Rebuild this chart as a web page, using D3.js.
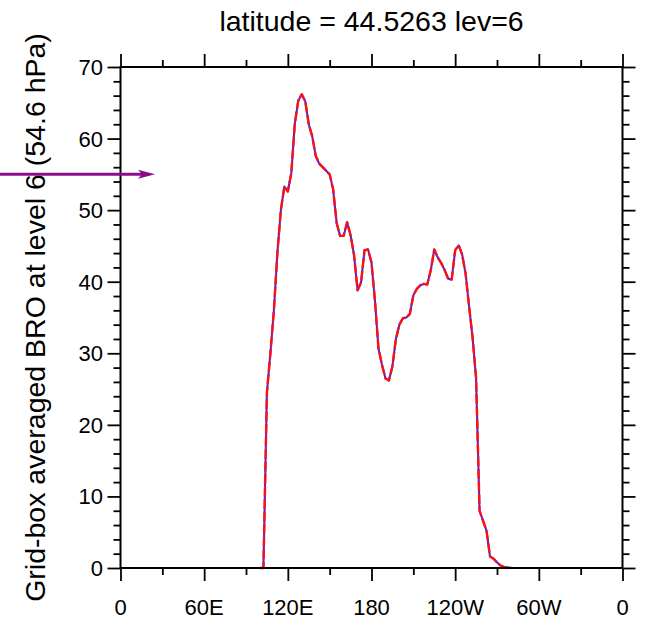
<!DOCTYPE html>
<html>
<head>
<meta charset="utf-8">
<script src="https://cdn.jsdelivr.net/npm/d3@7"></script>
<style>
  html, body { margin: 0; padding: 0; background: #fff; }
  svg { display: block; }
  text { font-family: "Liberation Sans", Arial, Helvetica, sans-serif; fill: #000; }
</style>
</head>
<body>
<svg id="chart" width="645" height="621"></svg>
<script>
// Longitudes (degrees east) of the grid columns along latitude 44.5263
const lons = [100, 102.5, 105, 107.5, 110, 112.5, 115, 117.5, 120, 122.5, 125, 127.5, 130, 132.5,
  135, 137.5, 140, 142.5, 145, 147.5, 150, 152.5, 155, 157.5, 160, 162.5, 165, 167.5, 170, 172.5,
  175, 177.5, 180, 182.5, 185, 187.5, 190, 192.5, 195, 197.5, 200, 202.5, 205, 207.5, 210, 212.5,
  215, 217.5, 220, 222.5, 225, 227.5, 230, 232.5, 235, 237.5, 240, 242.5, 245, 247.5, 250, 252.5,
  255, 257.5, 260, 262.5, 265, 267.5, 270, 272.5, 275, 277.5, 280];

// Grid-box averaged BRO at level 6 (first field, solid blue)
const broSolid = [0, 0, 24.5, 30, 36, 44, 50, 53.3, 52.6, 55.2, 62.1, 65.3, 66.2, 65.2,
  62, 60.3, 57.6, 56.5, 56.0, 55.5, 55.0, 52.9, 48.2, 46.4, 46.4, 48.3, 46.5, 43.7, 38.8, 39.9,
  44.4, 44.5, 42.7, 37.3, 30.7, 28.4, 26.5, 26.2, 28.2, 32.0, 34.0, 34.9, 35.0, 35.5, 38.1, 39.0,
  39.5, 39.7, 39.6, 41.6, 44.5, 43.4, 42.6, 41.6, 40.4, 40.3, 44.4, 45.1, 43.8, 41.1, 36.5, 32.2,
  26.5, 8.0, 6.6, 5.2, 1.6, 1.3, 0.8, 0.35, 0.15, 0.1, 0];

// Second field (dashed red); it coincides with the first one
const broDashed = broSolid.slice();

// Axis ticks
const xMajorTicks = [0, 60, 120, 180, 240, 300, 360];
const xTickLabels = ["0", "60E", "120E", "180", "120W", "60W", "0"];
const xMinorTicks = [30, 90, 150, 210, 270, 330];
const yMajorTicks = [0, 10, 20, 30, 40, 50, 60, 70];

const titleText = "latitude = 44.5263 lev=6";
const yLabelText = "Grid-box averaged BRO at level 6 (54.6 hPa)";
const arrowValue = 55;

const svg = d3.select("#chart");
const plotLeft = 120.5, plotRight = 622.5, plotTop = 67, plotBottom = 568;

const x = d3.scaleLinear().domain([0, 360]).range([plotLeft, plotRight]);
const y = d3.scaleLinear().domain([0, 70]).range([plotBottom, plotTop]);

const yMinorTicks = d3.range(0, 70.001, 2).filter(v => v % 10 !== 0);

// Curves
const line = d3.line()
  .x((d, i) => x(lons[i]))
  .y(d => y(d));

svg.append("path")
  .datum(broSolid)
  .attr("d", line)
  .attr("fill", "none")
  .attr("stroke", "#2b2bff")
  .attr("stroke-width", 2)
  .attr("stroke-linejoin", "round");

svg.append("path")
  .datum(broDashed)
  .attr("d", line)
  .attr("fill", "none")
  .attr("stroke", "#ff1010")
  .attr("stroke-width", 2.4)
  .attr("stroke-dasharray", "10,2.5")
  .attr("stroke-linejoin", "round");

// Frame with outward ticks on all four sides
const axisColor = "#000";
const majorLen = 13, minorLen = 7, tickW = 1.8;

function addAxis(axis, transform) {
  const g = svg.append("g").attr("transform", transform).call(axis);
  g.select(".domain").remove();
  g.selectAll("line").attr("stroke", axisColor).attr("stroke-width", tickW);
  g.selectAll("text").remove();
  return g;
}

addAxis(d3.axisBottom(x).tickValues(xMajorTicks).tickSizeInner(majorLen).tickSizeOuter(0), `translate(0,${plotBottom})`);
addAxis(d3.axisBottom(x).tickValues(xMinorTicks).tickSizeInner(minorLen).tickSizeOuter(0), `translate(0,${plotBottom})`);
addAxis(d3.axisTop(x).tickValues(xMajorTicks).tickSizeInner(majorLen).tickSizeOuter(0), `translate(0,${plotTop})`);
addAxis(d3.axisTop(x).tickValues(xMinorTicks).tickSizeInner(minorLen).tickSizeOuter(0), `translate(0,${plotTop})`);
addAxis(d3.axisLeft(y).tickValues(yMajorTicks).tickSizeInner(majorLen).tickSizeOuter(0), `translate(${plotLeft},0)`);
addAxis(d3.axisLeft(y).tickValues(yMinorTicks).tickSizeInner(minorLen).tickSizeOuter(0), `translate(${plotLeft},0)`);
addAxis(d3.axisRight(y).tickValues(yMajorTicks).tickSizeInner(majorLen).tickSizeOuter(0), `translate(${plotRight},0)`);
addAxis(d3.axisRight(y).tickValues(yMinorTicks).tickSizeInner(minorLen).tickSizeOuter(0), `translate(${plotRight},0)`);

svg.append("rect")
  .attr("x", plotLeft).attr("y", plotTop)
  .attr("width", plotRight - plotLeft).attr("height", plotBottom - plotTop)
  .attr("fill", "none")
  .attr("stroke", axisColor)
  .attr("stroke-width", 2);

// Tick labels
svg.append("g").selectAll("text")
  .data(xMajorTicks)
  .join("text")
  .attr("x", d => x(d))
  .attr("y", 615)
  .attr("text-anchor", "middle")
  .attr("font-size", 22)
  .text((d, i) => xTickLabels[i]);

svg.append("g").selectAll("text")
  .data(yMajorTicks)
  .join("text")
  .attr("x", 103)
  .attr("y", d => y(d) + 8)
  .attr("text-anchor", "end")
  .attr("font-size", 22)
  .text(d => d);

// Title
svg.append("text")
  .attr("x", (plotLeft + plotRight) / 2)
  .attr("y", 31)
  .attr("text-anchor", "middle")
  .attr("font-size", 28.5)
  .text(titleText);

// Y axis label
svg.append("text")
  .attr("transform", `translate(45,${(plotTop + plotBottom) / 2}) rotate(-90)`)
  .attr("text-anchor", "middle")
  .attr("font-size", 28.5)
  .text(yLabelText);

// Level marker arrow
const arrowColor = "#8c0c8c";
const ay = y(arrowValue);
const tipX = 155;
svg.append("line")
  .attr("x1", 0).attr("y1", ay)
  .attr("x2", tipX - 6).attr("y2", ay)
  .attr("stroke", arrowColor)
  .attr("stroke-width", 3);
svg.append("path")
  .attr("d", `M${tipX},${ay} L${tipX - 17},${ay - 4.5} L${tipX - 13},${ay} L${tipX - 17},${ay + 4.5} Z`)
  .attr("fill", arrowColor);
</script>
</body>
</html>
